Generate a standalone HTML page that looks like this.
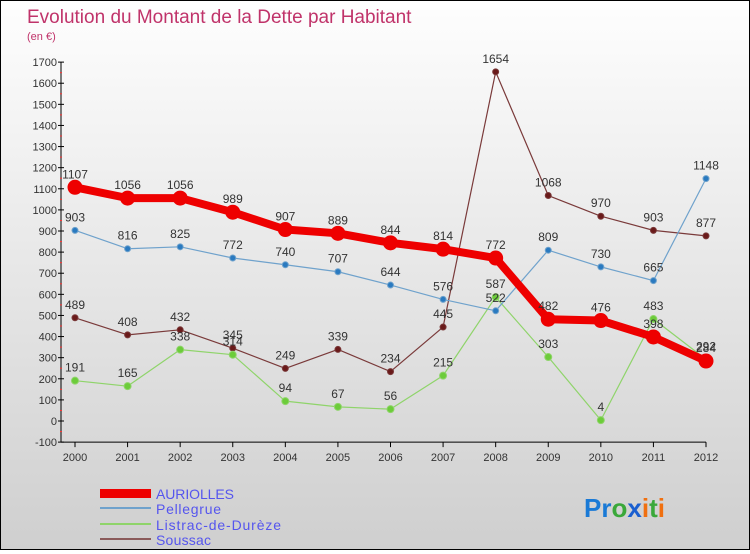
<!DOCTYPE html>
<html><head><meta charset="utf-8"><style>
html,body{margin:0;padding:0}
body{width:750px;height:550px;overflow:hidden;font-family:"Liberation Sans",sans-serif}
#c{position:absolute;left:0;top:0;width:748px;height:548px;border:1px solid #000;background:linear-gradient(#fefefe,#cfcfcf)}
</style></head><body>
<div id="c">
<svg id="s" width="748" height="548" xmlns="http://www.w3.org/2000/svg">
<text x="26" y="22" font-size="19" fill="#c0336a">Evolution du Montant de la Dette par Habitant</text>
<text x="26" y="39" font-size="11" fill="#c0336a">(en €)</text>
<g id="axes"></g><g id="series"></g>
<g>
<rect x="99" y="488" width="51" height="9" fill="#e00"/>
<text x="155" y="498" font-size="14" fill="#5555ee" textLength="78">AURIOLLES</text>
<rect x="99" y="506" width="51" height="2" fill="#6fa2cc"/>
<text x="155" y="513" font-size="14" fill="#5555ee" textLength="65">Pellegrue</text>
<rect x="99" y="522" width="51" height="2" fill="#8fd46a"/>
<text x="155" y="529" font-size="14" fill="#5555ee" textLength="125">Listrac-de-Durèze</text>
<rect x="99" y="537" width="51" height="2" fill="#8a5a5a"/>
<text x="155" y="544" font-size="14" fill="#5555ee" textLength="55">Soussac</text>
</g>
<text x="583" y="516" font-size="26" font-weight="bold" fill="#1a7ad6">Pr<tspan fill="#3aa83a">o</tspan><tspan fill="#1a5fd0">x</tspan><tspan fill="#f07010">i</tspan><tspan fill="#3aa83a">t</tspan><tspan fill="#f07010">i</tspan></text>
</svg></div>
<script>
const years=[2000,2001,2002,2003,2004,2005,2006,2007,2008,2009,2010,2011,2012];
const yTicks=[-100,0,100,200,300,400,500,600,700,800,900,1000,1100,1200,1300,1400,1500,1600,1700];
const auriolles=[1107,1056,1056,989,907,889,844,814,772,482,476,398,284];
const pellegrue=[903,816,825,772,740,707,644,576,522,809,730,665,1148];
const listrac=[191,165,338,314,94,67,56,215,587,303,4,483,292];
const soussac=[489,408,432,345,249,339,234,445,1654,1068,970,903,877];
const NS="http://www.w3.org/2000/svg";
function X(i){return 74+i*(705-74)/12;}
function Y(v){return 420-v*(380/1800);}
function mk(t,a,p){const e=document.createElementNS(NS,t);for(const k in a)e.setAttribute(k,a[k]);p.appendChild(e);return e;}
const ax=document.getElementById('axes');
let l=mk('line',{x1:60,y1:Y(1700),x2:60,y2:Y(-100),stroke:'#000'},ax);


l=mk('line',{x1:60,y1:Y(-100),x2:X(12),y2:Y(-100),stroke:'#000'},ax);


yTicks.forEach(v=>{
 mk('line',{x1:57,y1:Y(v),x2:63,y2:Y(v),stroke:'#000'},ax);
 if(v<1700) mk('line',{x1:59,y1:Y(v+50),x2:61,y2:Y(v+50),stroke:'#f33'},ax);
 const t=mk('text',{x:56,y:Y(v)+4,'font-size':11,fill:'#333','text-anchor':'end'},ax);
 t.textContent=v;
 
 
});
years.forEach((y,i)=>{
 mk('line',{x1:X(i),y1:Y(-100),x2:X(i),y2:Y(-100)+5,stroke:'#000'},ax);
 const t=mk('text',{x:X(i),y:Y(-100)+19,'font-size':11,fill:'#333','text-anchor':'middle'},ax);
 t.textContent=y;
 
 
});
const sg=document.getElementById('series');
function draw(data,name,color,w,r,dot){
 const g=mk('g',{},sg);
 
 
 const p=mk('polyline',{points:data.map((v,i)=>X(i)+','+Y(v)).join(' '),fill:'none',stroke:color,'stroke-width':w,'stroke-linejoin':'round'},g);
 
 
 data.forEach((v,i)=>{
  const c=mk('circle',{cx:X(i),cy:Y(v),r:r,fill:dot,stroke:color,'stroke-width':1},g);
  
  
  const t=mk('text',{x:X(i),y:Y(v)-9,'font-size':12,fill:'#333','text-anchor':'middle'},g);
  t.textContent=v;
  
  
 });
}
draw(soussac,'soussac','#7a3a3a',1.2,3,'#6a1a1a');
draw(listrac,'listrac','#8fd46a',1.2,3.5,'#6ccc3a');
draw(pellegrue,'pellegrue','#6fa2cc',1.2,3,'#2a7ac0');
draw(auriolles,'auriolles','#ee0000',8,7,'#ee0000');
</script>
</body></html>
